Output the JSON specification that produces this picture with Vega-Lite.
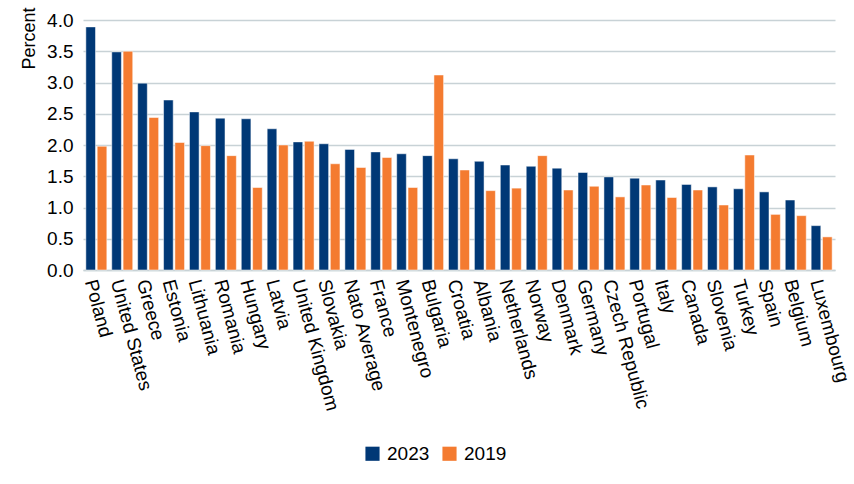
{
  "$schema": "https://vega.github.io/schema/vega-lite/v6.json",
  "width": 752,
  "height": 250,
  "autosize": {"type": "none"},
  "padding": {"left": 83, "top": 20, "right": 19, "bottom": 214},
  "config": {
    "font": "Liberation Sans",
    "view": {"stroke": null},
    "axis": {"labelFont": "Liberation Sans", "titleFont": "Liberation Sans", "labelColor": "#000", "titleColor": "#000"}
  },
  "data": {"values": [
    {"country": "Poland", "year": "2023", "value": 3.89},
    {"country": "Poland", "year": "2019", "value": 1.98},
    {"country": "United States", "year": "2023", "value": 3.49},
    {"country": "United States", "year": "2019", "value": 3.50},
    {"country": "Greece", "year": "2023", "value": 2.99},
    {"country": "Greece", "year": "2019", "value": 2.44},
    {"country": "Estonia", "year": "2023", "value": 2.72},
    {"country": "Estonia", "year": "2019", "value": 2.04},
    {"country": "Lithuania", "year": "2023", "value": 2.53},
    {"country": "Lithuania", "year": "2019", "value": 1.99},
    {"country": "Romania", "year": "2023", "value": 2.43},
    {"country": "Romania", "year": "2019", "value": 1.83},
    {"country": "Hungary", "year": "2023", "value": 2.42},
    {"country": "Hungary", "year": "2019", "value": 1.32},
    {"country": "Latvia", "year": "2023", "value": 2.26},
    {"country": "Latvia", "year": "2019", "value": 2.00},
    {"country": "United Kingdom", "year": "2023", "value": 2.05},
    {"country": "United Kingdom", "year": "2019", "value": 2.06},
    {"country": "Slovakia", "year": "2023", "value": 2.02},
    {"country": "Slovakia", "year": "2019", "value": 1.70},
    {"country": "Nato Average", "year": "2023", "value": 1.93},
    {"country": "Nato Average", "year": "2019", "value": 1.64},
    {"country": "France", "year": "2023", "value": 1.89},
    {"country": "France", "year": "2019", "value": 1.80},
    {"country": "Montenegro", "year": "2023", "value": 1.86},
    {"country": "Montenegro", "year": "2019", "value": 1.32},
    {"country": "Bulgaria", "year": "2023", "value": 1.83},
    {"country": "Bulgaria", "year": "2019", "value": 3.12},
    {"country": "Croatia", "year": "2023", "value": 1.78},
    {"country": "Croatia", "year": "2019", "value": 1.60},
    {"country": "Albania", "year": "2023", "value": 1.74},
    {"country": "Albania", "year": "2019", "value": 1.27},
    {"country": "Netherlands", "year": "2023", "value": 1.68},
    {"country": "Netherlands", "year": "2019", "value": 1.31},
    {"country": "Norway", "year": "2023", "value": 1.66},
    {"country": "Norway", "year": "2019", "value": 1.83},
    {"country": "Denmark", "year": "2023", "value": 1.63},
    {"country": "Denmark", "year": "2019", "value": 1.28},
    {"country": "Germany", "year": "2023", "value": 1.56},
    {"country": "Germany", "year": "2019", "value": 1.34},
    {"country": "Czech Republic", "year": "2023", "value": 1.49},
    {"country": "Czech Republic", "year": "2019", "value": 1.17},
    {"country": "Portugal", "year": "2023", "value": 1.47},
    {"country": "Portugal", "year": "2019", "value": 1.36},
    {"country": "Italy", "year": "2023", "value": 1.44},
    {"country": "Italy", "year": "2019", "value": 1.16},
    {"country": "Canada", "year": "2023", "value": 1.37},
    {"country": "Canada", "year": "2019", "value": 1.28},
    {"country": "Slovenia", "year": "2023", "value": 1.33},
    {"country": "Slovenia", "year": "2019", "value": 1.04},
    {"country": "Turkey", "year": "2023", "value": 1.30},
    {"country": "Turkey", "year": "2019", "value": 1.84},
    {"country": "Spain", "year": "2023", "value": 1.25},
    {"country": "Spain", "year": "2019", "value": 0.89},
    {"country": "Belgium", "year": "2023", "value": 1.12},
    {"country": "Belgium", "year": "2019", "value": 0.87},
    {"country": "Luxembourg", "year": "2023", "value": 0.71},
    {"country": "Luxembourg", "year": "2019", "value": 0.53}
  ]},
  "mark": {"type": "bar", "stroke": "#ffffff", "strokeWidth": 0.5},
  "encoding": {
    "x": {
      "field": "country", "type": "nominal", "sort": null,
      "scale": {"paddingInner": 0.19, "paddingOuter": 0.11},
      "axis": {
        "title": null, "labelAngle": 75, "labelAlign": "left", "labelBaseline": "top",
        "labelFontSize": 19, "labelPadding": 7, "labelOffset": 3, "ticks": false, "domain": true,
        "domainColor": "#c8d2d6", "domainWidth": 1.5, "labelLimit": 300, "labelOverlap": false
      }
    },
    "xOffset": {"field": "year", "type": "nominal", "sort": ["2023", "2019"], "scale": {"paddingInner": 0.15}},
    "y": {
      "field": "value", "type": "quantitative",
      "scale": {"domain": [0, 4]},
      "axis": {
        "title": "Percent", "titleFontSize": 18, "titleFontWeight": "normal", "titleAnchor": "end",
        "titleY": -13, "titlePadding": 8, "labelFontSize": 19, "labelPadding": 10, "ticks": false, "domain": false,
        "values": [0, 0.5, 1, 1.5, 2, 2.5, 3, 3.5, 4], "labelOverlap": false,
        "format": ".1f", "gridColor": "#c8d2d6", "gridWidth": 1.5
      }
    },
    "color": {
      "field": "year", "type": "nominal",
      "scale": {"domain": ["2023", "2019"], "range": ["#003876", "#f47b30"]},
      "legend": {
        "title": null, "orient": "none", "direction": "horizontal", "legendX": 280, "legendY": 424,
        "symbolType": "square", "symbolSize": 200, "symbolStrokeWidth": 0, "labelFontSize": 19,
        "labelOffset": 5, "columnPadding": 10, "labelFont": "Liberation Sans", "labelColor": "#000"
      }
    }
  }
}
